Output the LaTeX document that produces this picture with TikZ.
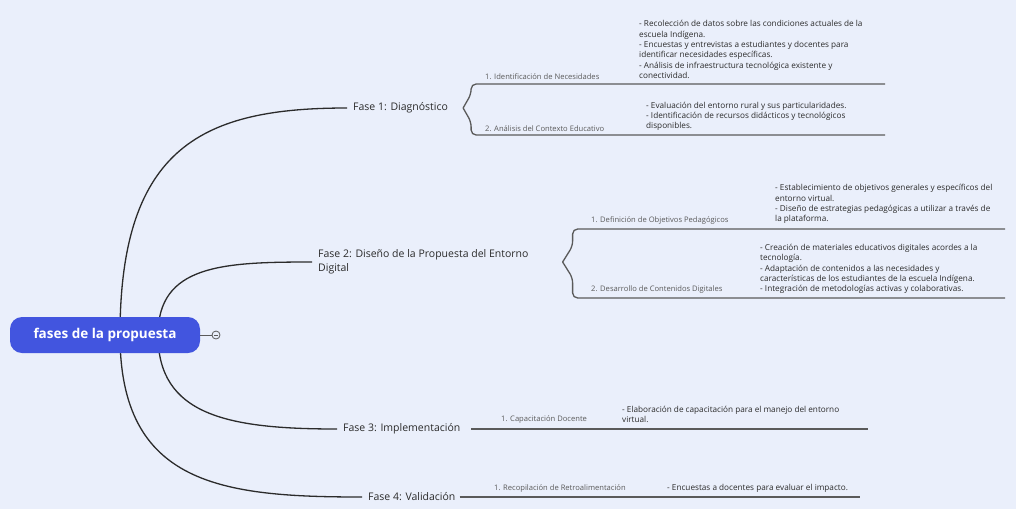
\documentclass[tikz,border=0pt]{standalone}
\usepackage{fontspec}
\setmainfont{Open Sans}
\usetikzlibrary{positioning}
\definecolor{canvasbg}{HTML}{EAEFFB}
\definecolor{rootblue}{HTML}{4255DF}
\definecolor{inkdark}{HTML}{2B2B2B}
\definecolor{inkgray}{HTML}{5A5A5A}
\pgfdeclarelayer{canvas}
\pgfdeclarelayer{links}
\pgfsetlayers{canvas,links,main}

\begin{document}
\begin{tikzpicture}[x=1pt,y=-1pt,
  rootnode/.style={fill=rootblue,text=white,rounded corners=12pt,minimum width=190pt,minimum height=36pt,font=\fontsize{13.5}{15}\selectfont\bfseries},
  fase/.style={anchor=west,inner xsep=6pt,inner ysep=2pt,text=inkdark,align=left,font=\fontsize{10.5}{14}\selectfont},
  sub/.style={anchor=south west,inner sep=1pt,text=inkgray,font=\fontsize{7.6}{9}\selectfont},
  detail/.style={anchor=south west,inner sep=1pt,text=inkdark,align=left,font=\fontsize{8.2}{10.4}\selectfont},
  link/.style={draw=inkdark,line width=1.3pt},
  rule/.style={draw=inkgray,line width=1.3pt,rounded corners=5pt}]
  \useasboundingbox (0,0) rectangle (1016,509);
  \begin{pgfonlayer}{canvas}
    \fill[canvasbg] (0,0) rectangle (1016,509);
  \end{pgfonlayer}

  % centre and phases
  \node[rootnode] (root) at (105,335) {fases de la propuesta};
  \node[fase] (f1) at (347,108) {Fase 1: Diagnóstico};
  \node[fase] (f2) at (312,262) {Fase 2: Diseño de la Propuesta del Entorno\\Digital};
  \node[fase] (f3) at (337,429) {Fase 3: Implementación};
  \node[fase] (f4) at (362,497) {Fase 4: Validación};

  \node[circle,draw=inkgray,line width=0.8pt,minimum size=8pt,inner sep=0pt] (fold) at (216,335) {};
  \draw[inkgray,line width=0.8pt] (root.east) -- (fold);
  \draw[inkgray,line width=0.6pt] ([xshift=-2pt]fold.center) -- ([xshift=2pt]fold.center);

  \begin{pgfonlayer}{links}
    \draw[link] ([xshift=15pt]root.center) .. controls +(0,-190) and +(-142,0) .. (f1.west);
    \draw[link] ([xshift=53pt]root.center) .. controls +(0,-70) and +(-90,0) .. (f2.west);
    \draw[link] ([xshift=53pt]root.center) .. controls +(0,80) and +(-110,0) .. (f3.west);
    \draw[link] ([xshift=15pt]root.center) .. controls +(0,150) and +(-140,0) .. (f4.west);
  \end{pgfonlayer}

  % Fase 1
  \node[sub] (s11) at (484,81) {1. Identificación de Necesidades};
  \node[detail] (d11) at (638,80) {- Recolección de datos sobre las condiciones actuales de la\\
    escuela Indígena.\\
    - Encuestas y entrevistas a estudiantes y docentes para\\
    identificar necesidades específicas.\\
    - Análisis de infraestructura tecnológica existente y\\
    conectividad.};
  \node[sub] (s12) at (484,133) {2. Análisis del Contexto Educativo};
  \node[detail] (d12) at (645,132) {- Evaluación del entorno rural y sus particularidades.\\
    - Identificación de recursos didácticos y tecnológicos\\
    disponibles.};
  \coordinate (e11) at (885,84);
  \coordinate (e12) at (885,135);
  \draw[rule] ([xshift=9pt]f1.east) -- ++(8,-14) |- (e11);
  \draw[rule] ([xshift=9pt]f1.east) -- ++(8,14) |- (e12);

  % Fase 2
  \node[sub] (s21) at (590,226) {1. Definición de Objetivos Pedagógicos};
  \node[detail] (d21) at (774,225) {- Establecimiento de objetivos generales y específicos del\\
    entorno virtual.\\
    - Diseño de estrategias pedagógicas a utilizar a través de\\
    la plataforma.};
  \node[sub] (s22) at (590,295) {2. Desarrollo de Contenidos Digitales};
  \node[detail] (d22) at (759,295) {- Creación de materiales educativos digitales acordes a la\\
    tecnología.\\
    - Adaptación de contenidos a las necesidades y\\
    características de los estudiantes de la escuela Indígena.\\
    - Integración de metodologías activas y colaborativas.};
  \coordinate (e21) at (1005,229);
  \coordinate (e22) at (1005,298);
  \draw[rule] ([xshift=28pt]f2.east) -- ++(10,-16) |- (e21);
  \draw[rule] ([xshift=28pt]f2.east) -- ++(10,16) |- (e22);

  % Fase 3
  \node[sub] (s31) at (500,425) {1. Capacitación Docente};
  \node[detail] (d31) at (621,424) {- Elaboración de capacitación para el manejo del entorno\\
    virtual.};
  \coordinate (e31) at (868,429);
  \draw[rule] ([xshift=5pt]f3.east) -- (e31);

  % Fase 4
  \node[sub] (s41) at (493,494) {1. Recopilación de Retroalimentación};
  \node[detail] (d41) at (666,494) {- Encuestas a docentes para evaluar el impacto.};
  \coordinate (e41) at (860,497);
  \draw[rule] ([xshift=-2pt]f4.east) -- (e41);
\end{tikzpicture}
\end{document}
